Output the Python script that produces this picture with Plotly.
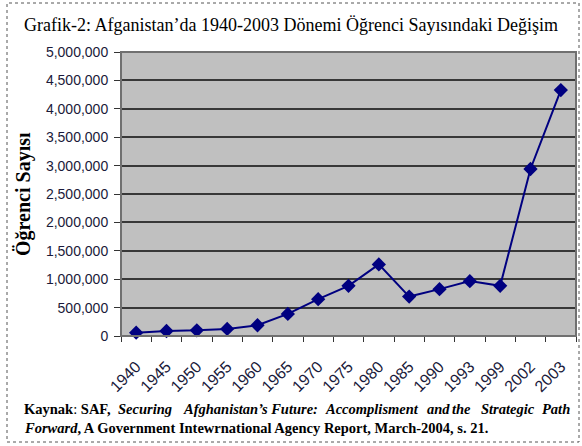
import plotly.graph_objects as go

years = ["1940", "1945", "1950", "1955", "1960", "1965", "1970", "1975", "1980",
         "1985", "1990", "1993", "1999", "2002", "2003"]
students = [58000, 88000, 100000, 124000, 189000, 389000, 648000, 883000, 1260000,
            694000, 825000, 966000, 883000, 2940000, 4330000]
y_ticks = [0, 500000, 1000000, 1500000, 2000000, 2500000, 3000000, 3500000,
           4000000, 4500000, 5000000]

W, H = 582, 446
L, R, T, B = 121, 576, 52, 336

def px(x):
    return (x - L) / (R - L)

def py(y):
    return (B - y) / (B - T)

serif = "Liberation Serif, Times New Roman, serif"
sans = "Liberation Sans, Arial, sans-serif"

fig = go.Figure()
fig.add_trace(go.Scatter(
    x=years, y=students, mode="lines+markers",
    line=dict(color="#000080", width=2),
    marker=dict(symbol="diamond", size=11, color="#000080"),
    showlegend=False, cliponaxis=False,
))

foot_font = dict(family=serif, size=14.5, color="black")

def note(text, x, y, anchor="left", font=None):
    return dict(text=text, xref="paper", yref="paper", x=px(x), y=py(y),
                xanchor=anchor, yanchor="middle", showarrow=False,
                font=font or foot_font)

fig.update_layout(
    width=W, height=H,
    margin=dict(l=L, r=W - R, t=T, b=H - B),
    paper_bgcolor="white",
    plot_bgcolor="#C0C0C0",
    xaxis=dict(
        type="category", tickangle=-45, automargin=False,
        tickfont=dict(family=sans, size=16, color="#1a1a3a"),
        showgrid=False, ticks="outside", ticklen=5, tickcolor="#333",
        tickson="boundaries", showline=True, linecolor="#333", linewidth=1,
        range=[-0.5, 14.5], zeroline=False, ticklabelstandoff=14,
    ),
    yaxis=dict(
        range=[0, 5000000], tickvals=y_ticks, automargin=False,
        ticktext=[f"{v:,}" for v in y_ticks],
        tickfont=dict(family=sans, size=14, color="#1a1a3a"),
        showgrid=True, gridcolor="#383838", gridwidth=1.5,
        ticks="outside", ticklen=6, tickcolor="#333",
        showline=True, linecolor="#333", linewidth=1, zeroline=False,
        ticklabelstandoff=3,
    ),
    shapes=[
        dict(type="rect", xref="paper", yref="paper", x0=0, x1=1, y0=0, y1=1,
             line=dict(color="#707070", width=2)),
        dict(type="rect", xref="paper", yref="paper",
             x0=px(7), x1=px(579), y0=py(442), y1=py(3),
             line=dict(color="#555", width=1, dash="dot")),
    ],
    annotations=[
        note("Grafik-2: Afganistan’da 1940-2003 Dönemi Öğrenci Sayısındaki Değişim", 22, 25,
             font=dict(family=serif, size=18, color="black")),
        dict(text="<b>Öğrenci Sayısı</b>", textangle=-90,
             xref="paper", yref="paper", x=px(23), y=py(194), xanchor="center", yanchor="middle",
             showarrow=False, font=dict(family=serif, size=20, color="black")),
        note("<b>Kaynak</b>: <b>SAF,</b>", 22, 409),
        note("<b><i>Securing</i></b>", 116, 409),
        note("<b><i>Afghanistan’s Future:</i></b>", 320, 409, anchor="right"),
        note("<b><i>Accomplisment</i></b>", 323, 409),
        note("<b><i>and</i></b>", 425, 409),
        note("<b><i>the</i></b>", 450, 409),
        note("<b><i>Strategic</i></b>", 479, 409),
        note("<b><i>Path</i></b>", 572, 409, anchor="right"),
        note("<b><i>Forward</i>, A Government Intewrnational Agency Report, March-2004, s. 21.</b>", 22, 428),
    ],
)

fig.write_html("out.html", config={"displayModeBar": False},
               post_script="document.body.style.margin='0';")
